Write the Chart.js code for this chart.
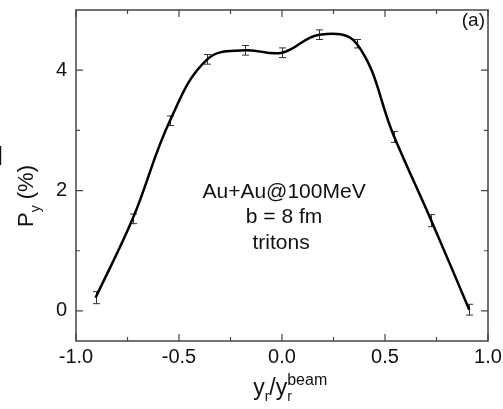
<!DOCTYPE html>
<html>
<head>
<meta charset="utf-8">
<script src="https://cdn.jsdelivr.net/npm/chart.js@4/dist/chart.umd.min.js"></script>
<style>
  html, body { margin: 0; padding: 0; background: #fff; }
  #wrap { width: 503px; height: 409px; }
</style>
</head>
<body>
<div id="wrap"><canvas id="c" width="503" height="409"></canvas></div>
<script>
// rapidity y_r/y_r^beam and polarization P_y (%) for tritons
const rapidity = [-0.905, -0.725, -0.544, -0.363, -0.181, 0.0, 0.181, 0.363, 0.545, 0.725, 0.909];
const polar    = [0.22, 1.53, 3.16, 4.18, 4.33, 4.29, 4.59, 4.44, 2.89, 1.50, 0.02];
const polarErr = [0.10, 0.08, 0.08, 0.08, 0.08, 0.08, 0.08, 0.07, 0.09, 0.10, 0.09];

const xMajor = [-1.0, -0.5, 0.0, 0.5, 1.0];
const xMinor = [-0.75, -0.25, 0.25, 0.75];
const yMajor = [0, 2, 4];
const yMinor = [1, 3];

const annotation = ['Au+Au@100MeV', 'b = 8 fm', 'tritons'];
const FONT = '"Liberation Sans", Arial, sans-serif';

const points = rapidity.map((x, i) => ({ x: x, y: polar[i] }));

// error bars under the curve
const errorBars = {
  id: 'errorBars',
  beforeDatasetsDraw(chart) {
    const { ctx, scales: { x, y } } = chart;
    ctx.save();
    ctx.strokeStyle = '#333';
    ctx.lineWidth = 1;
    rapidity.forEach((v, i) => {
      const px = Math.round(x.getPixelForValue(v)) + 0.5;
      const y1 = y.getPixelForValue(polar[i] + polarErr[i]);
      const y2 = y.getPixelForValue(polar[i] - polarErr[i]);
      ctx.beginPath();
      ctx.moveTo(px, y1); ctx.lineTo(px, y2);
      ctx.moveTo(px - 3.5, y1); ctx.lineTo(px + 3.5, y1);
      ctx.moveTo(px - 3.5, y2); ctx.lineTo(px + 3.5, y2);
      ctx.stroke();
    });
    ctx.restore();
  }
};

// frame, inward ticks, tick labels and the texts
const frame = {
  id: 'frame',
  afterDraw(chart) {
    const { ctx, chartArea: a, scales: { x, y } } = chart;
    ctx.save();
    ctx.strokeStyle = '#444';
    ctx.lineWidth = 1.5;
    ctx.strokeRect(a.left, a.top, a.right - a.left, a.bottom - a.top);

    ctx.lineWidth = 1.2;
    const xt = (v, len) => {
      const px = x.getPixelForValue(v);
      ctx.beginPath();
      ctx.moveTo(px, a.bottom); ctx.lineTo(px, a.bottom - len);
      ctx.moveTo(px, a.top); ctx.lineTo(px, a.top + len);
      ctx.stroke();
    };
    const yt = (v, len) => {
      const py = y.getPixelForValue(v);
      ctx.beginPath();
      ctx.moveTo(a.left, py); ctx.lineTo(a.left + len, py);
      ctx.moveTo(a.right, py); ctx.lineTo(a.right - len, py);
      ctx.stroke();
    };
    xMajor.forEach(v => xt(v, 7));
    xMinor.forEach(v => xt(v, 4));
    yMajor.forEach(v => yt(v, 7));
    yMinor.forEach(v => yt(v, 4));

    ctx.fillStyle = '#111';

    // tick labels
    ctx.font = '20px ' + FONT;
    ctx.textBaseline = 'middle';
    ctx.textAlign = 'center';
    xMajor.forEach(v => ctx.fillText(v.toFixed(1), x.getPixelForValue(v), a.bottom + 16));
    ctx.textAlign = 'right';
    yMajor.forEach(v => ctx.fillText(String(v), a.left - 9, y.getPixelForValue(v)));

    ctx.textBaseline = 'alphabetic';

    // annotation
    ctx.textAlign = 'center';
    ctx.font = '21px ' + FONT;
    const cx = x.getPixelForValue(0.01);
    annotation.forEach((t, i) => {
      ctx.fillText(t, cx - (i === 2 ? 3 : 0), y.getPixelForValue(1.88) + i * 25.5);
    });

    // panel label
    ctx.textAlign = 'right';
    ctx.font = '19px ' + FONT;
    ctx.fillText('(a)', a.right - 3, a.top + 16);

    // x title: y_r / y_r^beam
    ctx.textAlign = 'left';
    const parts = [
      ['y', 23, 0], ['r', 14, 6], ['/y', 23, 0], ['r', 14, 6]
    ];
    let w = 0;
    parts.forEach(p => { ctx.font = p[1] + 'px ' + FONT; w += ctx.measureText(p[0]).width; });
    ctx.font = '16px ' + FONT;
    const beamW = ctx.measureText('beam').width;
    let tx = 289 - (w + beamW - 7) / 2;
    const base = 395;
    let lastStart = tx;
    parts.forEach((p, i) => {
      ctx.font = p[1] + 'px ' + FONT;
      if (i === 3) lastStart = tx;
      ctx.fillText(p[0], tx, base + p[2]);
      tx += ctx.measureText(p[0]).width;
    });
    ctx.font = '16px ' + FONT;
    ctx.fillText('beam', lastStart, base - 10);

    // y title: P_y (%)
    ctx.save();
    ctx.translate(33, 196);
    ctx.rotate(-Math.PI / 2);
    ctx.font = '22px ' + FONT;
    const pW = ctx.measureText('P').width;
    ctx.font = '14px ' + FONT;
    const sW = ctx.measureText('y').width;
    ctx.font = '22px ' + FONT;
    const rW = ctx.measureText(' (%)').width;
    let sx = -(pW + sW + rW) / 2;
    ctx.fillText('P', sx, 0);
    ctx.font = '14px ' + FONT;
    ctx.fillText('y', sx + pW, 7);
    ctx.font = '22px ' + FONT;
    ctx.fillText(' (%)', sx + pW + sW, 0);
    ctx.restore();

    // clipped glyph at the left edge
    ctx.font = '26px ' + FONT;
    ctx.textAlign = 'right';
    ctx.fillText('d', 3, 165);
    ctx.restore();
  }
};

new Chart(document.getElementById('c'), {
  type: 'scatter',
  data: {
    datasets: [{
      data: points,
      showLine: true,
      borderColor: '#000',
      borderWidth: 2.5,
      tension: 0.4,
      pointRadius: 0,
      fill: false
    }]
  },
  options: {
    responsive: false,
    animation: false,
    events: [],
    layout: { padding: { left: 0, right: 15, top: 10, bottom: 0 } },
    plugins: { legend: { display: false }, tooltip: { enabled: false } },
    scales: {
      x: {
        type: 'linear',
        min: -1.0,
        max: 1.0,
        afterBuildTicks: s => { s.ticks = xMajor.map(v => ({ value: v })); },
        afterFit: s => { s.height = 68; },
        grid: { display: false, drawTicks: false },
        border: { display: false },
        ticks: { display: false }
      },
      y: {
        type: 'linear',
        min: -0.5,
        max: 5.0,
        afterBuildTicks: s => { s.ticks = yMajor.map(v => ({ value: v })); },
        afterFit: s => { s.width = 76; },
        grid: { display: false, drawTicks: false },
        border: { display: false },
        ticks: { display: false }
      }
    }
  },
  plugins: [errorBars, frame]
});
</script>
</body>
</html>
